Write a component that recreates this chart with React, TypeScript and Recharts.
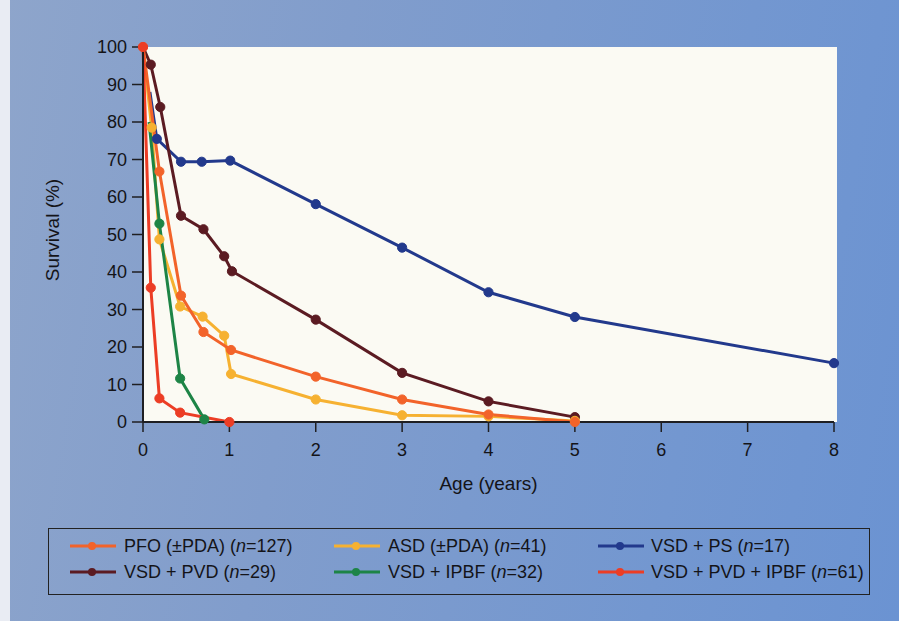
import React from 'react';
import { LineChart, Line, XAxis, YAxis } from 'recharts';

// Age (years) and survival (%) per group
const PFO_AGE = [0, 0.19, 0.44, 0.7, 1.02, 2, 3, 4, 5];
const PFO_SURV = [100, 66.8, 33.7, 24, 19.2, 12.1, 6, 2, 0];

const ASD_AGE = [0, 0.1, 0.19, 0.43, 0.69, 0.94, 1.02, 2, 3, 4, 5];
const ASD_SURV = [100, 78.5, 48.7, 30.8, 28.1, 23, 12.8, 6, 1.8, 1.5, 0.3];

const VSDPS_AGE = [0.08, 0.16, 0.44, 0.68, 1.01, 2, 3, 4, 5, 8];
const VSDPS_SURV = [88, 75.5, 69.4, 69.4, 69.7, 58.1, 46.5, 34.6, 28, 15.7];

const VSDPVD_AGE = [0, 0.09, 0.2, 0.44, 0.7, 0.94, 1.03, 2, 3, 4, 5];
const VSDPVD_SURV = [100, 95.3, 84, 55, 51.4, 44.2, 40.2, 27.3, 13.1, 5.5, 1.3];

const VSDIPBF_AGE = [0.07, 0.19, 0.43, 0.71];
const VSDIPBF_SURV = [80, 52.9, 11.6, 0.7];

const VSDPVDIPBF_AGE = [0, 0.09, 0.19, 0.43, 1.0];
const VSDPVDIPBF_SURV = [100, 35.8, 6.3, 2.5, 0];

const X_TICKS = [0, 1, 2, 3, 4, 5, 6, 7, 8];
const Y_TICKS = [0, 10, 20, 30, 40, 50, 60, 70, 80, 90, 100];

const zip = (ages: number[], survs: number[]) => ages.map((a, i) => ({ age: a, surv: survs[i] }));

type Series = {
  key: string;
  label: string;
  n: number;
  color: string;
  data: { age: number; surv: number }[];
  markFirst: boolean;
};

const SERIES: Series[] = [
  { key: 'vsdps', label: 'VSD + PS', n: 17, color: '#22398c', data: zip(VSDPS_AGE, VSDPS_SURV), markFirst: false },
  { key: 'vsdpvd', label: 'VSD + PVD', n: 29, color: '#5b1b22', data: zip(VSDPVD_AGE, VSDPVD_SURV), markFirst: false },
  { key: 'asd', label: 'ASD (±PDA)', n: 41, color: '#f6b131', data: zip(ASD_AGE, ASD_SURV), markFirst: false },
  { key: 'vsdipbf', label: 'VSD + IPBF', n: 32, color: '#1d8446', data: zip(VSDIPBF_AGE, VSDIPBF_SURV), markFirst: false },
  { key: 'pfo', label: 'PFO (±PDA)', n: 127, color: '#f2632a', data: zip(PFO_AGE, PFO_SURV), markFirst: true },
  { key: 'vsdpvdipbf', label: 'VSD + PVD + IPBF', n: 61, color: '#ec3d25', data: zip(VSDPVDIPBF_AGE, VSDPVDIPBF_SURV), markFirst: true },
];

const LEGEND_ORDER = [
  ['pfo', 'asd', 'vsdps'],
  ['vsdpvd', 'vsdipbf', 'vsdpvdipbf'],
];

const FONT = '"Liberation Sans", Arial, sans-serif';
const TEXT = '#141418';

const makeDot = (s: Series) => (props: any) => {
  const { cx, cy, index } = props;
  if (index === 0 && !s.markFirst) return <circle key={`${s.key}-${index}`} cx={cx} cy={cy} r={0} />;
  return <circle key={`${s.key}-${index}`} cx={cx} cy={cy} r={4.6} fill={s.color} stroke={s.color} strokeWidth={1} />;
};

const colX = [70, 334, 598];
const textX = [124, 388, 651];
const rowY = [546, 572];

export default function App() {
  const byKey: Record<string, Series> = {};
  SERIES.forEach((s) => (byKey[s.key] = s));
  return (
    <div
      style={{
        position: 'absolute',
        left: 0,
        top: 0,
        width: 899,
        height: 621,
        overflow: 'hidden',
        background: 'linear-gradient(100deg, #8ea5cb 0%, #819dcc 35%, #7397d0 75%, #6b93d2 100%)',
        fontFamily: FONT,
      }}
    >
      <div style={{ position: 'absolute', left: 0, top: 0, width: 10, height: 621, background: '#e9ecf3' }} />
      <div style={{ position: 'absolute', left: 143, top: 47, width: 694, height: 375, background: '#fbfaf3' }} />
      <div style={{ position: 'absolute', left: 0, top: 0 }}>
        <LineChart width={899} height={621} margin={{ top: 47, right: 65, bottom: 169, left: 83 }}>
          <XAxis
            type="number"
            dataKey="age"
            domain={[0, 8]}
            ticks={X_TICKS}
            allowDuplicatedCategory={false}
            tickSize={10}
            tickMargin={11}
            height={30}
            stroke="#1f1f22"
            strokeWidth={2}
            tick={{ fill: TEXT, fontSize: 18, fontFamily: FONT }}
            tickLine={{ stroke: '#1f1f22', strokeWidth: 1.5 }}
            label={{ value: 'Age (years)', position: 'bottom', offset: 25, fill: TEXT, fontSize: 19, fontFamily: FONT }}
          />
          <YAxis
            type="number"
            dataKey="surv"
            domain={[0, 100]}
            ticks={Y_TICKS}
            width={60}
            tickSize={11}
            tickMargin={5}
            stroke="#1f1f22"
            strokeWidth={2}
            tick={{ fill: TEXT, fontSize: 18, fontFamily: FONT }}
            tickLine={{ stroke: '#1f1f22', strokeWidth: 1.5 }}
            label={{
              content: () => (
                <text
                  x={52}
                  y={230}
                  transform="rotate(-90 52 230)"
                  textAnchor="middle"
                  dominantBaseline="central"
                  fill={TEXT}
                  fontSize={19}
                  fontFamily={FONT}
                >
                  Survival (%)
                </text>
              ),
            }}
          />
          {SERIES.map((s) => (
            <Line
              key={s.key}
              data={s.data}
              dataKey="surv"
              type="linear"
              stroke={s.color}
              strokeWidth={3}
              dot={makeDot(s)}
              activeDot={false}
              isAnimationActive={false}
            />
          ))}
        </LineChart>
      </div>
      <div
        style={{
          position: 'absolute',
          left: 48,
          top: 528,
          width: 822,
          height: 67,
          border: '1.5px solid #222',
          boxSizing: 'border-box',
        }}
      />
      {LEGEND_ORDER.map((row, r) =>
        row.map((k, c) => {
          const s = byKey[k];
          return (
            <React.Fragment key={k}>
              <svg
                style={{ position: 'absolute', left: colX[c], top: rowY[r] - 6 }}
                width={46}
                height={12}
              >
                <line x1={0} y1={6} x2={46} y2={6} stroke={s.color} strokeWidth={3} />
                <circle cx={22} cy={6} r={4} fill={s.color} />
              </svg>
              <div
                style={{
                  position: 'absolute',
                  left: textX[c],
                  top: rowY[r] - 12,
                  height: 24,
                  lineHeight: '24px',
                  fontSize: 18,
                  color: TEXT,
                  whiteSpace: 'nowrap',
                  fontFamily: FONT,
                }}
              >
                {s.label} (<i>n</i>={s.n})
              </div>
            </React.Fragment>
          );
        })
      )}
    </div>
  );
}
